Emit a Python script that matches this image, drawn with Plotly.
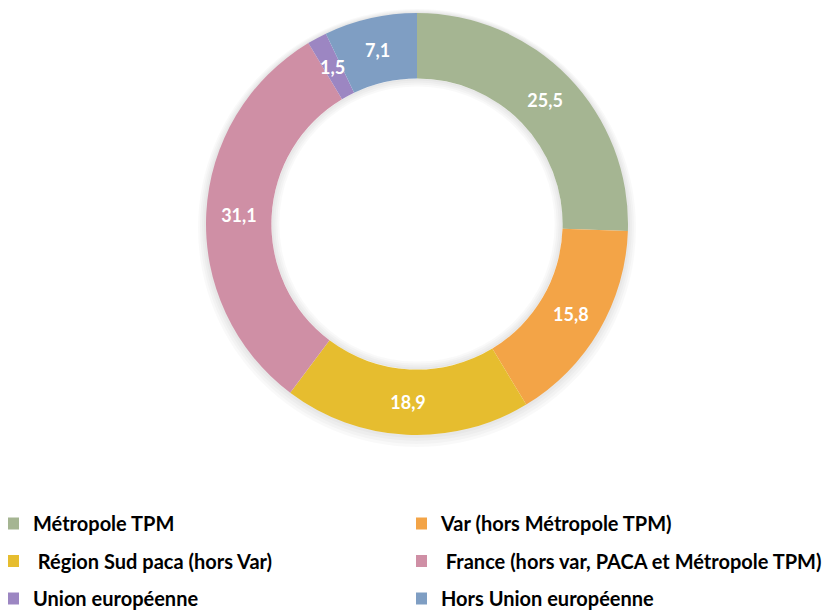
import math
import plotly.graph_objects as go

labels = [
    "Métropole TPM",
    "Var (hors Métropole TPM)",
    "\u00a0Région Sud paca (hors Var)",
    "\u00a0France (hors var, PACA et Métropole TPM)",
    "Union européenne",
    "Hors Union européenne",
]
values = [25.5, 15.8, 18.9, 31.1, 1.5, 7.1]
colors = ["#A5B592", "#F3A447", "#E6BD2F", "#CF8FA5", "#9C86C2", "#7F9EC3"]

# the page body has an 8px margin, so the figure is laid out 8px smaller
OFF = 8
W, H = 831 - OFF, 610 - OFF
cx, cy, R = 417 - OFF, 224 - OFF, 211
HOLE = 0.69
FONT = "Lato"


def domain_for(radius, ccx=cx, ccy=cy):
    return dict(
        x=[max(0, (ccx - radius) / W), min(1, (ccx + radius) / W)],
        y=[max(0, 1 - (ccy + radius) / H), min(1, 1 - (ccy - radius) / H)],
    )


fig = go.Figure()

# soft shadow around the ring (outer glow and inner glow in the hole)
for d in [2, 4, 6, 8]:
    fig.add_trace(go.Pie(
        values=[1], labels=["s"], hole=(R - 4) / (R + d), sort=False,
        marker=dict(colors=["rgba(0,0,0,0.022)"], line=dict(width=0)),
        textinfo="none", hoverinfo="skip", showlegend=False,
        domain=domain_for(R + d, cx, cy + d / 2),
    ))
    rh = R * HOLE
    fig.add_trace(go.Pie(
        values=[1], labels=["s"], hole=(rh - d) / rh, sort=False,
        marker=dict(colors=["rgba(0,0,0,0.022)"], line=dict(width=0)),
        textinfo="none", hoverinfo="skip", showlegend=False,
        domain=domain_for(rh),
    ))

# small slices whose label does not fit inside are labelled with an annotation
small = [v < 3 for v in values]

fig.add_trace(
    go.Pie(
        labels=labels,
        values=values,
        hole=HOLE,
        sort=False,
        direction="clockwise",
        rotation=0,
        marker=dict(colors=colors, line=dict(width=0)),
        texttemplate="%{value:.1f}",
        textposition=["none" if s else "inside" for s in small],
        insidetextorientation="horizontal",
        textfont=dict(family=FONT, size=18, color="white", weight="bold"),
        domain=domain_for(R),
        hoverinfo="skip",
        showlegend=False,
    )
)

total = sum(values)
cum = 0.0
annotations = []
for v, s in zip(values, small):
    if s:
        theta = math.radians(360 * (cum + v / 2) / total)
        rm = R * (1 + HOLE) / 2
        px = cx + rm * math.sin(theta)
        py = cy - rm * math.cos(theta)
        annotations.append(dict(
            x=px / W, y=1 - py / H, xref="paper", yref="paper",
            xanchor="center", yanchor="middle",
            text=f"{v:.1f}".replace(".", ","), showarrow=False,
            font=dict(family=FONT, size=18, color="white", weight="bold"),
        ))
    cum += v

# legend entries (two columns)
for i, (lab, col) in enumerate(zip(labels, colors)):
    fig.add_trace(go.Scatter(
        x=[None], y=[None], mode="markers", name=lab,
        marker=dict(symbol="square", size=12, color=col, line=dict(width=0)),
        legend="legend" if i % 2 == 0 else "legend2",
        legendgroup=f"g{i}",
        hoverinfo="skip",
    ))

legend_common = dict(
    orientation="v",
    xanchor="left",
    yanchor="top",
    y=1 - 496 / H,
    indentation=-15,
    tracegroupgap=8.5,
    font=dict(family=FONT, size=20, color="black", weight="bold"),
    traceorder="grouped",
    itemclick=False,
    itemdoubleclick=False,
    bgcolor="rgba(0,0,0,0)",
)

fig.update_layout(
    width=W,
    height=H,
    margin=dict(l=0, r=0, t=0, b=0, autoexpand=False),
    paper_bgcolor="white",
    plot_bgcolor="white",
    separators=", ",
    xaxis=dict(visible=False),
    yaxis=dict(visible=False),
    annotations=annotations,
    showlegend=True,
    legend=dict(x=0, **legend_common),
    legend2=dict(x=408 / W, **legend_common),
)

fig.write_html("out.html")
